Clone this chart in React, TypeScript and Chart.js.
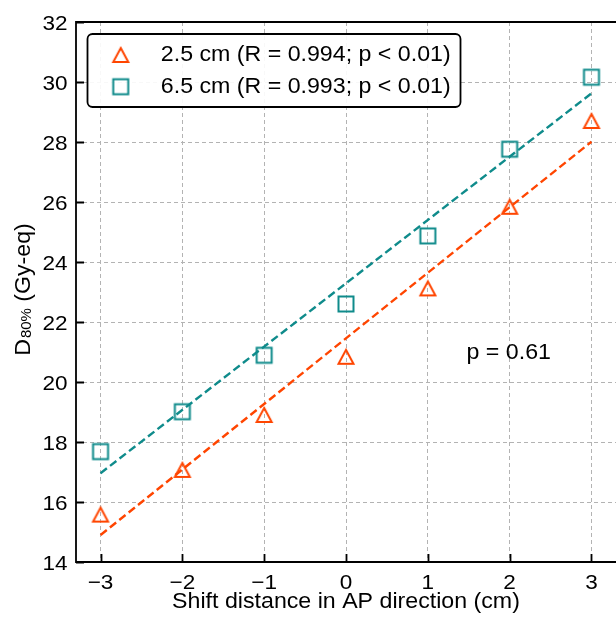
import React, { useEffect, useRef } from 'react';
import { Chart, registerables } from 'chart.js';

Chart.register(...registerables);

// ---- data ----
const shifts = [-3, -2, -1, 0, 1, 2, 3];
const d80_25cm = [15.58, 17.07, 18.9, 20.84, 23.12, 25.84, 28.7];
const d80_65cm = [17.68, 19.01, 20.89, 22.6, 24.87, 27.76, 30.16];
const fitX = [-3, 3];
const fit_25cm = [14.9, 28.01];
const fit_65cm = [16.96, 29.62];
const xTickValues = [-3, -2, -1, 0, 1, 2, 3];
const yTickValues = [14, 16, 18, 20, 22, 24, 26, 28, 30, 32];
const seriesLabels = ['2.5 cm (R = 0.994; p < 0.01)', '6.5 cm (R = 0.993; p < 0.01)'];
const annotationText = 'p = 0.61';
const xTitle = 'Shift distance in AP direction (cm)';
const yTitleMain = 'D';
const yTitleSub = '80%';
const yTitleRest = ' (Gy-eq)';

const ORANGE = '#FF4500';
const TEAL = '#0F8B8B';
const FONT = '"Liberation Sans", Arial, sans-serif';
const TICK_FONT = `20.5px ${FONT}`;
const TICK_SX = 1.1;
const LABEL_FONT = `22.5px ${FONT}`;
const SUB_FONT = `14.5px ${FONT}`;
const LABEL_SX = 1.03;

function makeMarker(kind: 'tri' | 'sq', color: string): HTMLCanvasElement {
  const c = document.createElement('canvas');
  c.width = 22;
  c.height = 22;
  const g = c.getContext('2d')!;
  g.strokeStyle = color;
  g.lineWidth = 2;
  g.lineJoin = 'miter';
  g.beginPath();
  if (kind === 'tri') {
    g.moveTo(11, 11 - 7);
    g.lineTo(11 + 7.5, 11 + 7);
    g.lineTo(11 - 7.5, 11 + 7);
    g.closePath();
  } else {
    g.rect(11 - 7.5, 11 - 7.5, 15, 15);
  }
  g.stroke();
  return c;
}

const fmt = (v: number) => (v < 0 ? '\u2212' + Math.abs(v) : String(v));

function drawText(
  ctx: CanvasRenderingContext2D,
  s: string,
  x: number,
  y: number,
  font: string,
  align: CanvasTextAlign,
  sx: number
) {
  ctx.save();
  ctx.translate(x, y);
  ctx.scale(sx, 1);
  ctx.font = font;
  ctx.textAlign = align;
  ctx.textBaseline = 'alphabetic';
  ctx.fillText(s, 0, 0);
  ctx.restore();
}

export default function App() {
  const ref = useRef<HTMLCanvasElement>(null);

  useEffect(() => {
    const canvas = ref.current!;
    const triImg = makeMarker('tri', ORANGE);
    const sqImg = makeMarker('sq', TEAL);

    const framePlugin = {
      id: 'framePlugin',
      afterDraw(chart: any) {
        const ctx = chart.ctx as CanvasRenderingContext2D;
        const { left, right, top, bottom } = chart.chartArea;
        const xs = chart.scales.x;
        const ys = chart.scales.y;
        ctx.save();
        // frame
        ctx.strokeStyle = '#000';
        ctx.lineWidth = 1.8;
        ctx.beginPath();
        ctx.moveTo(right + 2, top);
        ctx.lineTo(left, top);
        ctx.lineTo(left, bottom);
        ctx.lineTo(right + 2, bottom);
        ctx.stroke();
        // inward ticks
        ctx.beginPath();
        xTickValues.forEach((v) => {
          const px = Math.round(xs.getPixelForValue(v)) + 0.5;
          ctx.moveTo(px, bottom);
          ctx.lineTo(px, bottom - 8);
        });
        yTickValues.forEach((v) => {
          const py = Math.round(ys.getPixelForValue(v)) + 0.5;
          ctx.moveTo(left, py);
          ctx.lineTo(left + 8, py);
        });
        ctx.stroke();

        // tick labels
        ctx.fillStyle = '#000';
        xTickValues.forEach((v) => {
          const px = xs.getPixelForValue(v);
          drawText(ctx, fmt(v), px, bottom + 26.5, TICK_FONT, 'center', TICK_SX);
        });
        yTickValues.forEach((v) => {
          const py = ys.getPixelForValue(v);
          drawText(ctx, fmt(v), left - 8.5, py + 7.8, TICK_FONT, 'right', TICK_SX);
        });

        // legend box
        const bx = 87.5, by = 34, bw = 373, bh = 73, r = 5;
        ctx.fillStyle = 'rgba(255,255,255,0.9)';
        ctx.beginPath();
        ctx.moveTo(bx + r, by);
        ctx.lineTo(bx + bw - r, by);
        ctx.arcTo(bx + bw, by, bx + bw, by + r, r);
        ctx.lineTo(bx + bw, by + bh - r);
        ctx.arcTo(bx + bw, by + bh, bx + bw - r, by + bh, r);
        ctx.lineTo(bx + r, by + bh);
        ctx.arcTo(bx, by + bh, bx, by + bh - r, r);
        ctx.lineTo(bx, by + r);
        ctx.arcTo(bx, by, bx + r, by, r);
        ctx.closePath();
        ctx.fill();
        ctx.lineWidth = 1.8;
        ctx.strokeStyle = '#000';
        ctx.stroke();
        ctx.drawImage(triImg, 120.7 - 11, 55 - 11);
        ctx.drawImage(sqImg, 120.7 - 11, 86.7 - 11);
        ctx.fillStyle = '#000';
        drawText(ctx, seriesLabels[0], 160.8, 61.3, LABEL_FONT, 'left', LABEL_SX);
        drawText(ctx, seriesLabels[1], 160.8, 93, LABEL_FONT, 'left', LABEL_SX);

        // annotation
        drawText(ctx, annotationText, 466.5, 358.5, LABEL_FONT, 'left', LABEL_SX);

        // x title
        drawText(ctx, xTitle, (left + right) / 2, 607.5, LABEL_FONT, 'center', LABEL_SX);

        // y title with subscript
        ctx.save();
        ctx.translate(29.8, 289.5);
        ctx.rotate(-Math.PI / 2);
        ctx.scale(LABEL_SX, 1);
        ctx.textAlign = 'left';
        ctx.textBaseline = 'alphabetic';
        ctx.font = LABEL_FONT;
        const w1 = ctx.measureText(yTitleMain).width;
        const w3 = ctx.measureText(yTitleRest).width;
        ctx.font = SUB_FONT;
        const w2 = ctx.measureText(yTitleSub).width;
        const gap = 1;
        const total = w1 + gap + w2 + w3;
        let x0 = -total / 2;
        ctx.font = LABEL_FONT;
        ctx.fillText(yTitleMain, x0, 0);
        x0 += w1 + gap;
        ctx.font = SUB_FONT;
        ctx.fillText(yTitleSub, x0, 1.5);
        x0 += w2;
        ctx.font = LABEL_FONT;
        ctx.fillText(yTitleRest, x0, 0);
        ctx.restore();

        ctx.restore();
      },
    };

    const chart = new Chart(canvas, {
      type: 'scatter',
      data: {
        datasets: [
          {
            label: seriesLabels[0] + ' fit',
            data: fitX.map((x, i) => ({ x, y: fit_25cm[i] })),
            showLine: true,
            borderColor: ORANGE,
            borderWidth: 2.4,
            borderDash: [8, 4],
            pointRadius: 0,
            order: 3,
          },
          {
            label: seriesLabels[1] + ' fit',
            data: fitX.map((x, i) => ({ x, y: fit_65cm[i] })),
            showLine: true,
            borderColor: TEAL,
            borderWidth: 2.4,
            borderDash: [8, 4],
            pointRadius: 0,
            order: 3,
          },
          {
            label: seriesLabels[0],
            data: shifts.map((x, i) => ({ x, y: d80_25cm[i] })),
            pointStyle: triImg,
            pointRadius: 9,
            order: 1,
          },
          {
            label: seriesLabels[1],
            data: shifts.map((x, i) => ({ x, y: d80_65cm[i] })),
            pointStyle: sqImg,
            pointRadius: 9,
            order: 1,
          },
        ],
      },
      options: {
        animation: false,
        responsive: false,
        devicePixelRatio: 1,
        layout: { autoPadding: false, padding: { top: 22, right: 0, left: 0, bottom: 0 } },
        plugins: {
          legend: { display: false },
          tooltip: { enabled: false },
        },
        scales: {
          x: {
            type: 'linear',
            min: -3.3,
            max: 3.3,
            afterBuildTicks: (s: any) => {
              s.ticks = xTickValues.map((v) => ({ value: v }));
            },
            afterFit: (s: any) => {
              s.height = 58;
              s.paddingLeft = 0;
              s.paddingRight = 0;
            },
            ticks: { display: false },
            grid: { color: '#b3b3b3', lineWidth: 1, drawTicks: false, tickLength: 0 },
            border: { display: false, dash: [4, 3] },
          },
          y: {
            type: 'linear',
            min: 14,
            max: 32,
            afterBuildTicks: (s: any) => {
              s.ticks = yTickValues.map((v) => ({ value: v }));
            },
            afterFit: (s: any) => {
              s.width = 76;
              s.paddingTop = 0;
              s.paddingBottom = 0;
            },
            ticks: { display: false },
            grid: { color: '#b3b3b3', lineWidth: 1, drawTicks: false, tickLength: 0 },
            border: { display: false, dash: [4, 3] },
          },
        },
      },
      plugins: [framePlugin],
    });

    return () => chart.destroy();
  }, []);

  return (
    <div style={{ position: 'absolute', left: 0, top: 0, width: 616, height: 620, background: '#fff' }}>
      <canvas ref={ref} width={616} height={620} style={{ display: 'block' }} />
    </div>
  );
}
